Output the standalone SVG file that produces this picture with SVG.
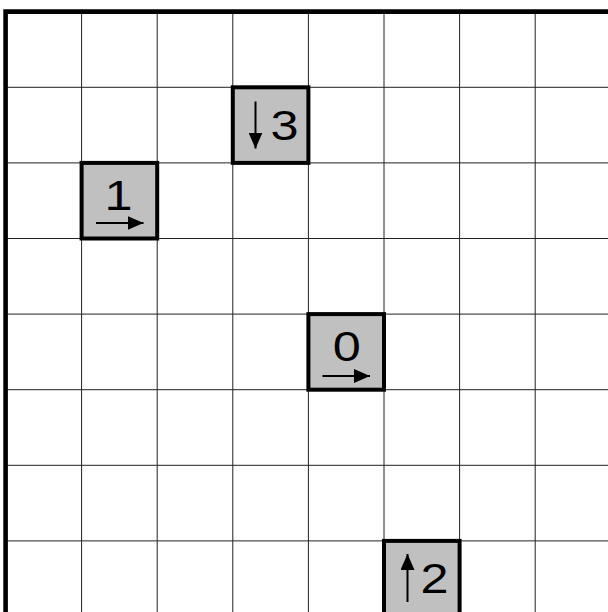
<svg xmlns="http://www.w3.org/2000/svg" width="608" height="612" viewBox="0 0 608 612">
<style>
.grid{stroke:#222;stroke-width:1;fill:none}
.border{stroke:#000;stroke-width:4.6;fill:none;stroke-linejoin:miter}
.tile{fill:#c0c0c0;stroke:#000;stroke-width:4}
.lbl{font-family:"Liberation Sans",Arial,sans-serif;font-size:42px;fill:#000;text-anchor:middle}
.arr{stroke:#000;stroke-width:2;fill:none}
</style>
<defs>
<marker id="ah" markerWidth="16" markerHeight="14" refX="16" refY="7" orient="auto" markerUnits="userSpaceOnUse">
<path d="M0,0 L16,7 L0,14 Z" fill="#000"/>
</marker>
</defs>
<rect width="608" height="612" fill="#fff"/>
<g id="grid">
<path class="grid" d="M81.6,11.7V612 M157.2,11.7V612 M232.8,11.7V612 M308.4,11.7V612 M384,11.7V612 M459.6,11.7V612 M535.2,11.7V612"/>
<path class="grid" d="M6,87.3H608 M6,162.9H608 M6,238.5H608 M6,314.1H608 M6,389.7H608 M6,465.3H608 M6,540.9H608"/>
<path class="border" d="M5.6,612V11.6H608"/>
</g>
<g id="node-3">
<rect class="tile" x="232.8" y="87.3" width="75.6" height="75.6"/>
<line class="arr" x1="255.5" y1="101.5" x2="255.5" y2="148.5" marker-end="url(#ah)"/>
<text class="lbl" transform="translate(284.5,139.5) scale(1.2,1)">3</text>
</g>
<g id="node-1">
<rect class="tile" x="81.6" y="162.9" width="75.6" height="75.6"/>
<line class="arr" x1="96" y1="223" x2="143.5" y2="223" marker-end="url(#ah)"/>
<text class="lbl" transform="translate(118.5,209.7) scale(1.2,1)">1</text>
</g>
<g id="node-0">
<rect class="tile" x="308.4" y="314.1" width="75.6" height="75.6"/>
<line class="arr" x1="322.5" y1="376" x2="370" y2="376" marker-end="url(#ah)"/>
<text class="lbl" transform="translate(346.7,361) scale(1.2,1)">0</text>
</g>
<g id="node-2">
<rect class="tile" x="384" y="540.9" width="75.6" height="75.6"/>
<line class="arr" x1="407.5" y1="602" x2="407.5" y2="554" marker-end="url(#ah)"/>
<text class="lbl" transform="translate(434.5,593.3) scale(1.2,1)">2</text>
</g>
</svg>
